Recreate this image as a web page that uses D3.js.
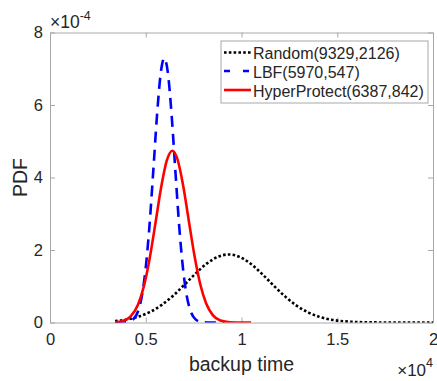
<!DOCTYPE html>
<html>
<head>
<meta charset="utf-8">
<script src="https://cdn.jsdelivr.net/npm/d3@7"></script>
<style>
  body { margin: 0; background: #fff; }
  text { font-family: "Liberation Sans", Arial, Helvetica, sans-serif; fill: #262626; }
</style>
</head>
<body>
<svg id="chart"></svg>
<script>
const width  = 437
const height = 381

// backup time samples and pdf values (pdf in units of 1e-4)
const randomTime = [3400, 4000, 4600, 5200, 5800, 6400, 7000, 7600, 8200, 8800, 9329, 9900, 10500,
                    11100, 11700, 12300, 12900, 13500, 14100, 14700, 15300, 16000, 16800, 17600, 18500, 19300, 20000]
const randomPdf  = [0.038, 0.081, 0.158, 0.285, 0.473, 0.726, 1.030, 1.348, 1.630, 1.819, 1.877, 1.810, 1.613,
                    1.326, 1.008, 0.707, 0.458, 0.274, 0.151, 0.077, 0.036, 0.014, 0.004, 0.001, 0.0001, 0, 0]

const lbfTime = [3400, 3700, 4000, 4300, 4600, 4800, 5000, 5200, 5400, 5600, 5800, 5970, 6150,
                 6350, 6550, 6750, 6950, 7150, 7350, 7600, 7900, 8200, 8600, 9100]
const lbfPdf  = [0.0001, 0.0013, 0.011, 0.069, 0.317, 0.740, 1.515, 2.707, 4.237, 5.802, 6.949, 7.293, 6.909,
                 5.729, 4.157, 2.638, 1.465, 0.712, 0.303, 0.086, 0.014, 0.002, 0, 0]

const hpTime = [3400, 3800, 4200, 4600, 4900, 5200, 5500, 5800, 6100, 6387, 6650, 6950, 7250,
                7550, 7850, 8150, 8500, 8900, 9400, 10000, 10500]
const hpPdf  = [0.009, 0.042, 0.163, 0.498, 0.997, 1.754, 2.720, 3.716, 4.471, 4.738, 4.512, 3.789, 2.802,
                1.825, 1.047, 0.529, 0.203, 0.055, 0.008, 0.0005, 0]

const seriesNames = ["Random(9329,2126)", "LBF(5970,547)", "HyperProtect(6387,842)"]

const xTicks = [0, 5000, 10000, 15000, 20000]
const xTickLabels = ["0", "0.5", "1", "1.5", "2"]
const yTicks = [0, 2, 4, 6, 8]
const yTickLabels = ["0", "2", "4", "6", "8"]

const axisColor = "#a8a8a8"

const plotLeft = 50, plotRight = 433, plotTop = 32.5, plotBottom = 322.5

let svg = d3.select("#chart")
            .attr("width", width)
            .attr("height", height)

const x = d3.scaleLinear().domain([0, 20000]).range([plotLeft, plotRight])
const y = d3.scaleLinear().domain([0, 8]).range([plotBottom, plotTop])

// clip the curves to the axes box
svg.append("clipPath").attr("id", "plotArea")
   .append("rect")
   .attr("x", plotLeft).attr("y", plotTop)
   .attr("width", plotRight - plotLeft).attr("height", plotBottom - plotTop)

// axes, MATLAB style: box on, ticks pointing in
const styleAxis = (g) => {
    g.select(".domain").attr("stroke", axisColor).attr("stroke-width", 1)
    g.selectAll(".tick line").attr("stroke", axisColor)
    g.selectAll(".tick text").attr("fill", "#262626").style("font-size", "16.5px")
}

svg.append("g")
   .attr("transform", `translate(0,${plotBottom})`)
   .call(d3.axisBottom(x).tickValues(xTicks).tickSizeInner(-5).tickSizeOuter(0).tickPadding(11)
           .tickFormat((d, i) => xTickLabels[i]))
   .call(styleAxis)

svg.append("g")
   .attr("transform", `translate(0,${plotTop})`)
   .call(d3.axisTop(x).tickValues(xTicks).tickSizeInner(-5).tickSizeOuter(0).tickFormat(""))
   .call(styleAxis)

svg.append("g")
   .attr("transform", `translate(${plotLeft},0)`)
   .call(d3.axisLeft(y).tickValues(yTicks).tickSizeInner(-5).tickSizeOuter(0).tickPadding(7)
           .tickFormat((d, i) => yTickLabels[i]))
   .call(styleAxis)

svg.append("g")
   .attr("transform", `translate(${plotRight},0)`)
   .call(d3.axisRight(y).tickValues(yTicks).tickSizeInner(-5).tickSizeOuter(0).tickFormat(""))
   .call(styleAxis)

svg.selectAll("g").attr("font-family", null)

// curves
const line = d3.line()
               .x(d => x(d[0]))
               .y(d => y(d[1]))
               .curve(d3.curveMonotoneX)

const series = [
    { time: randomTime, pdf: randomPdf, color: "#000000", dash: "2.6,2.2", width: 2.6 },
    { time: lbfTime,    pdf: lbfPdf,    color: "#0000ff", dash: "11,7",    width: 2.6 },
    { time: hpTime,     pdf: hpPdf,     color: "#ff0000", dash: null,      width: 2.6 }
]

svg.append("g")
   .attr("clip-path", "url(#plotArea)")
   .selectAll("path")
   .data(series)
   .enter().append("path")
   .attr("d", s => line(s.time.map((t, i) => [t, s.pdf[i]])))
   .attr("fill", "none")
   .attr("stroke", s => s.color)
   .attr("stroke-width", s => s.width)
   .attr("stroke-dasharray", s => s.dash)

// axis labels
svg.append("text")
   .attr("x", (plotLeft + plotRight) / 2)
   .attr("y", 371)
   .attr("text-anchor", "middle")
   .style("font-size", "19.5px")
   .text("backup time")

svg.append("text")
   .attr("transform", `translate(27,${(plotTop + plotBottom) / 2}) rotate(-90)`)
   .attr("text-anchor", "middle")
   .style("font-size", "19.5px")
   .text("PDF")

// exponent labels
let yExp = svg.append("text")
   .attr("x", 50)
   .attr("y", 28)
   .style("font-size", "17.5px")
yExp.append("tspan").text("\u00d710")
yExp.append("tspan").attr("dy", -8).style("font-size", "12.5px").text("-4")

let xExp = svg.append("text")
   .attr("x", 433)
   .attr("y", 376)
   .attr("text-anchor", "end")
   .style("font-size", "17px")
xExp.append("tspan").text("\u00d710")
xExp.append("tspan").attr("dy", -9).style("font-size", "12.5px").text("4")

// legend
const legendLeft = 221, legendTop = 41
const rowY = [52.5, 71, 90]
const legendDash = ["2.6,2.2", "6,13", null]

let legend = svg.append("g")

legend.append("rect")
      .attr("x", legendLeft)
      .attr("y", legendTop)
      .attr("width", 207)
      .attr("height", 62)
      .attr("fill", "#fff")
      .attr("stroke", axisColor)

let legendRows = legend.selectAll("g.row")
      .data(series)
      .enter().append("g")
      .attr("class", "row")

legendRows.append("line")
      .attr("x1", 224).attr("x2", 251)
      .attr("y1", (d, i) => rowY[i]).attr("y2", (d, i) => rowY[i])
      .attr("stroke", d => d.color)
      .attr("stroke-width", d => d.width)
      .attr("stroke-dasharray", (d, i) => legendDash[i])

legendRows.append("text")
      .attr("x", 253)
      .attr("y", (d, i) => rowY[i] + 1)
      .attr("dy", ".35em")
      .style("font-size", "16px")
      .text((d, i) => seriesNames[i])
</script>
</body>
</html>
